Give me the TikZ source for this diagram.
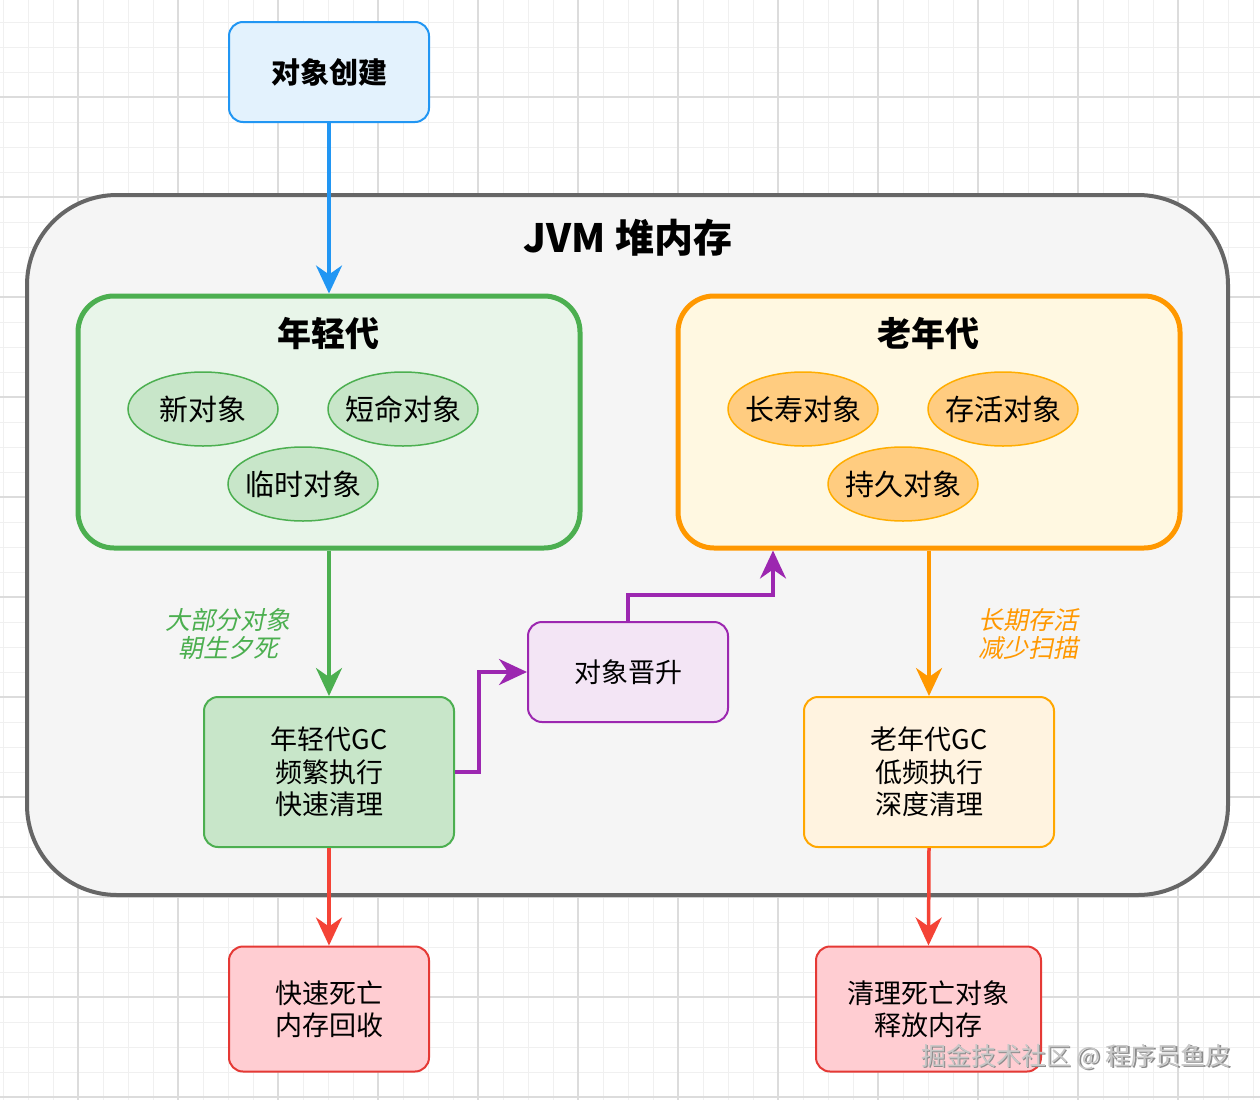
\documentclass[tikz,border=0pt]{standalone}
\usepackage{fontspec}
\setmainfont{Noto Sans CJK SC}[AutoFakeSlant=0.2]
\usetikzlibrary{arrows.meta,shapes.geometric}
\definecolor{cblueF}{HTML}{E3F2FD}\definecolor{cblueD}{HTML}{2196F3}
\definecolor{cgrayF}{HTML}{F5F5F5}\definecolor{cgrayD}{HTML}{666666}
\definecolor{cgreenF}{HTML}{E8F5E9}\definecolor{cgreenD}{HTML}{4CAF50}\definecolor{cgreenM}{HTML}{C8E6C9}
\definecolor{corgF}{HTML}{FFF8E1}\definecolor{corgD}{HTML}{FF9800}\definecolor{corgM}{HTML}{FFCC80}\definecolor{corgL}{HTML}{FFF3E0}
\definecolor{cpurF}{HTML}{F3E5F5}\definecolor{cpurD}{HTML}{9C27B0}
\definecolor{credF}{HTML}{FFCDD2}\definecolor{credD}{HTML}{E53935}\definecolor{credA}{HTML}{F44336}
\definecolor{cgridmin}{HTML}{F0F0F0}\definecolor{cgridmaj}{HTML}{DCDCDC}
\newcommand{\zw}[1]{\makebox[0pt]{#1}}
\begin{document}
\begin{tikzpicture}[x=1pt,y=-1pt,
  tip/.style={-{Stealth[length=28pt,width=26pt,inset=9pt]}},
  conn/.style={line width=3.5pt,tip},
  box/.style={rectangle,rounded corners=14pt,line width=2pt,align=center,inner sep=0pt,
    font=\fontsize{27}{32.5}\selectfont},
  oval/.style={ellipse,minimum width=150pt,minimum height=74pt,inner sep=0pt,line width=1.5pt,
    font=\fontsize{29}{34}\selectfont},
  gen/.style={rectangle,rounded corners=36pt,line width=5pt,minimum width=502pt,minimum height=252pt},
  gentitle/.style={font=\fontsize{34}{40}\selectfont\bfseries},
  note/.style={font=\fontsize{25}{28}\selectfont\itshape,align=center}
]
\useasboundingbox (0,0) rectangle (1260,1100);
\fill[white] (0,0) rectangle (1260,1100);
\foreach \x in {3,28,...,1260} \draw[cgridmin,line width=1pt] (\x,0) -- (\x,1100);
\foreach \y in {22,47,...,1100} \draw[cgridmin,line width=1pt] (0,\y) -- (1260,\y);
\foreach \x in {78,178,...,1260} \draw[cgridmaj,line width=1.2pt] (\x,0) -- (\x,1100);
\foreach \y in {97,197,...,1100} \draw[cgridmaj,line width=1.2pt] (0,\y) -- (1260,\y);

% outer JVM heap
\node[rectangle,rounded corners=90pt,fill=cgrayF,draw=cgrayD,line width=4pt,
  minimum width=1201pt,minimum height=700pt] (jvm) at (627.5,545) {};
\node[font=\fontsize{39}{45}\selectfont\bfseries] (jvmtitle) at (628,238) {JVM 堆内存};

% object creation
\node[box,fill=cblueF,draw=cblueD,minimum width=200pt,minimum height=100pt,
  font=\fontsize{29}{34}\selectfont\bfseries] (create) at (329,72) {对象创建};

% young generation
\node[gen,fill=cgreenF,draw=cgreenD] (young) at (329,422) {};
\node[gentitle] (youngtitle) at (328,334) {年轻代};
\node[oval,fill=cgreenM,draw=cgreenD] (y1) at (203,409) {\zw{新对象}};
\node[oval,fill=cgreenM,draw=cgreenD] (y2) at (403,409) {\zw{短命对象}};
\node[oval,fill=cgreenM,draw=cgreenD] (y3) at (303,484) {\zw{临时对象}};

% old generation
\node[gen,fill=corgF,draw=corgD] (old) at (929,422) {};
\node[gentitle] (oldtitle) at (928,334) {老年代};
\node[oval,fill=corgM,draw=corgD!80!yellow] (o1) at (803,409) {\zw{长寿对象}};
\node[oval,fill=corgM,draw=corgD!80!yellow] (o2) at (1003,409) {\zw{存活对象}};
\node[oval,fill=corgM,draw=corgD!80!yellow] (o3) at (903,484) {\zw{持久对象}};

% GC boxes
\node[box,fill=cgreenM,draw=cgreenD,minimum width=250pt,minimum height=150pt] (ygc) at (329,772)
  {年轻代GC\\频繁执行\\快速清理};
\node[box,fill=corgL,draw=corgD!85!yellow,minimum width=250pt,minimum height=150pt] (ogc) at (929,772)
  {老年代GC\\低频执行\\深度清理};
\node[box,fill=cpurF,draw=cpurD,minimum width=200pt,minimum height=100pt] (promo) at (628,672) {对象晋升};

% result boxes
\node[box,fill=credF,draw=credD,minimum width=200pt,minimum height=125pt] (ydead) at (329,1009)
  {快速死亡\\内存回收};
\node[box,fill=credF,draw=credD,minimum width=225pt,minimum height=125pt] (odead) at (928.5,1009)
  {清理死亡对象\\释放内存};

% connectors
\draw[conn,cblueD] (create.south) -- (young.north);
\draw[conn,cgreenD] (young.south) -- (ygc.north);
\draw[conn,corgD] (old.south) -- (ogc.north);
\draw[conn,credA] (ygc.south) -- (ydead.north);
\draw[conn,credA] (ogc.south) -- (odead.north);
\draw[conn,cpurD] (ygc.east) -- ++(24,0) |- (promo.west);
\coordinate (oldin) at (773,0);
\draw[conn,cpurD] (promo.north) -- ++(0,-26) -| (old.south -| oldin);

% edge notes
\node[note,text=cgreenD] (ynote) at (228,634) {大部分对象\\朝生夕死};
\node[note,text=corgD] (onote) at (1028,634) {长期存活\\减少扫描};

% watermark
\node[font=\fontsize{25}{29}\selectfont,text=black!45] (wm0) at (1077.5,1058.5) {掘金技术社区 @ 程序员鱼皮};
\node[font=\fontsize{25}{29}\selectfont,text=black!22] (wm) at (1076,1057) {掘金技术社区 @ 程序员鱼皮};
\end{tikzpicture}
\end{document}
